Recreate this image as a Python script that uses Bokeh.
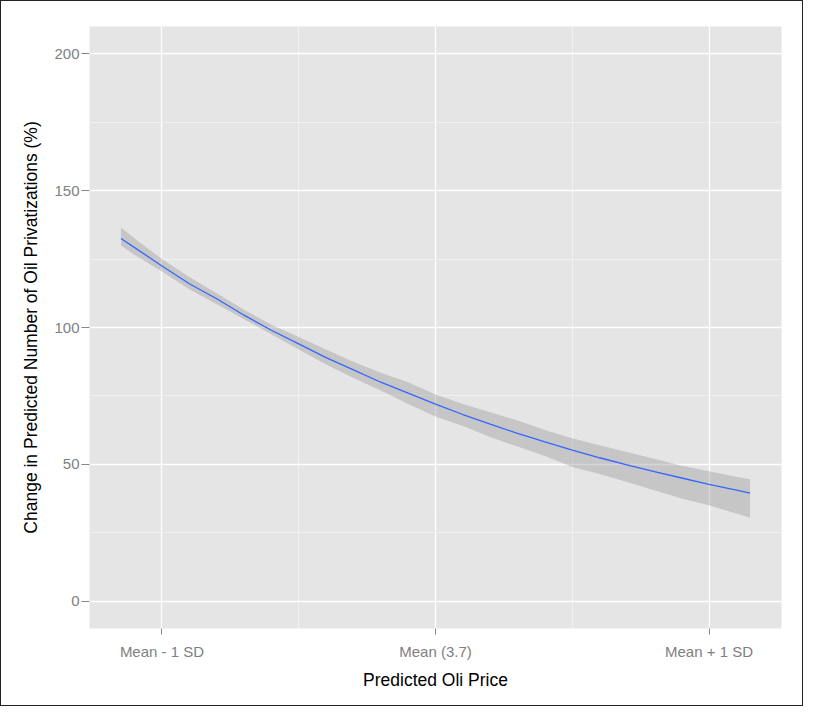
from bokeh.plotting import figure
from bokeh.models import Range1d, FixedTicker
from bokeh.embed import file_html
from bokeh.resources import INLINE

# ---- data ----
x_vals = [-1.15, -1.1, -1.0, -0.9, -0.8, -0.7, -0.6, -0.5, -0.4, -0.3, -0.2, -0.1, 0.0,
          0.1, 0.2, 0.3, 0.4, 0.5, 0.6, 0.7, 0.8, 0.9, 1.0, 1.1, 1.15]
pred = [132.5, 129.2, 122.5, 116, 110.5, 104.5, 99, 94, 89, 84.5, 80, 76, 72,
        68.2, 64.7, 61.3, 58.2, 55.2, 52.4, 49.8, 47.3, 45, 42.7, 40.6, 39.5]
upper = [136.5, 132.5, 125, 118.5, 112.5, 106.5, 101, 96.5, 92, 87.5, 83.5, 80, 75.5,
         72, 69, 66, 62.5, 59.5, 57, 54.5, 52, 49.5, 47.5, 45.5, 44.5]
lower = [130, 126.5, 120.5, 114, 108.5, 103, 97.5, 92, 86.5, 81.5, 77, 72, 67.5,
         64, 60, 56.5, 53, 49, 46.5, 43.5, 40.5, 37.5, 35, 32, 30.5]

x_tick_pos = [-1, 0, 1]
x_tick_labels = ["Mean - 1 SD", "Mean (3.7)", "Mean + 1 SD"]
x_minor = [-0.5, 0.5]
y_ticks = [0, 50, 100, 150, 200]
y_minor = [25, 75, 125, 175]

x_title = "Predicted Oli Price"
y_title = "Change in Predicted Number of Oil Privatizations (%)"

FONT = "Liberation Sans"

p = figure(width=803, height=706, output_backend="svg", toolbar_location=None,
           x_range=Range1d(-1.265, 1.265), y_range=Range1d(-10, 210),
           min_border_left=88, min_border_right=23, min_border_top=25, min_border_bottom=79)
p.styles = {"border": "1px solid #222222"}

p.background_fill_color = "#E5E5E5"
p.border_fill_color = "white"
p.outline_line_color = None

# grids
p.xaxis.ticker = FixedTicker(ticks=x_tick_pos, minor_ticks=x_minor)
p.yaxis.ticker = FixedTicker(ticks=y_ticks, minor_ticks=y_minor)
for g in (p.xgrid, p.ygrid):
    g.grid_line_color = "white"
    g.grid_line_width = 1.3
    g.minor_grid_line_color = "#F2F2F2"
    g.minor_grid_line_width = 0.9

# axes
p.xaxis.major_label_overrides = {t: s for t, s in zip(x_tick_pos, x_tick_labels)}
for ax in (p.xaxis, p.yaxis):
    ax.axis_line_color = None
    ax.minor_tick_line_color = None
    ax.major_tick_line_color = "#888888"
    ax.major_tick_in = 0
    ax.major_label_text_font = FONT
    ax.major_label_text_font_size = "15px"
    ax.major_label_text_color = "#808080"
    ax.axis_label_text_font = FONT
    ax.axis_label_text_font_size = "17.5px"
    ax.axis_label_text_font_style = "normal"
    ax.axis_label_text_color = "black"
p.xaxis.major_tick_out = 6
p.xaxis.major_label_standoff = 8
p.yaxis.major_tick_out = 8
p.yaxis.major_label_standoff = 2
p.xaxis.axis_label = x_title
p.yaxis.axis_label = y_title
p.xaxis.axis_label_standoff = 7
p.yaxis.axis_label_standoff = 10

# ribbon + line
p.varea(x=x_vals, y1=lower, y2=upper, fill_color="#999999", fill_alpha=0.4)
p.line(x=x_vals, y=pred, line_color="#3366FF", line_width=1.3)

open("out.html", "w").write(file_html(p, INLINE))
